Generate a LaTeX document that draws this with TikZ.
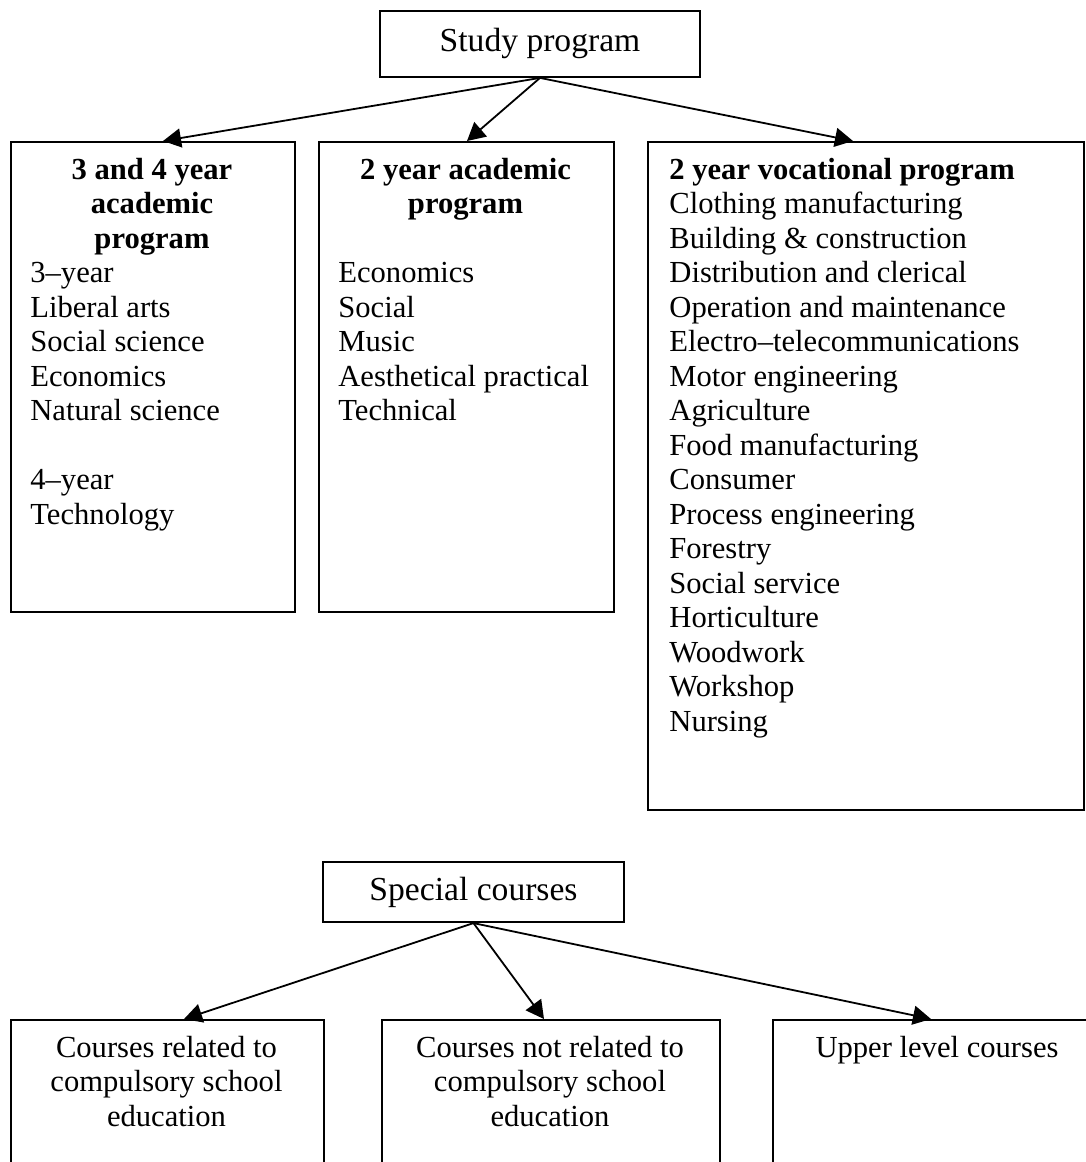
\documentclass[tikz,border=0pt]{standalone}
\usepackage{fontspec}
\setmainfont{Liberation Serif}
\usetikzlibrary{arrows.meta}

\begin{document}
\begin{tikzpicture}[x=0.5pt, y=-0.5pt,
  frame/.style={draw, line width=1.1pt, inner sep=0pt},
  headbox/.style={frame, font=\fontsize{16.8}{20}\selectfont},
  body/.style={inner sep=0pt, font=\fontsize{15.3}{17.25}\selectfont},
  listtext/.style={body, anchor=north west, align=left},
  titletext/.style={body, anchor=north, align=center, font=\fontsize{15.3}{17.25}\selectfont\bfseries},
  centretext/.style={body, anchor=north, align=center},
  link/.style={line width=0.9pt, -{Triangle[length=9pt,width=9.5pt]}}
]
\useasboundingbox (0,0) rectangle (1086,1162);

% ---------- Study program ----------
\node[headbox, minimum width=160pt, minimum height=33pt] (study) at (540,43.8) {Study program};

\node[frame, anchor=north west, minimum width=142pt, minimum height=235pt] (acad34) at (10,141) {};
\node[frame, anchor=north west, minimum width=147.5pt, minimum height=235pt] (acad2) at (318,141) {};
\node[frame, anchor=north west, minimum width=218pt, minimum height=334pt] (voc2) at (647,141) {};

\node[titletext] (acad34title) at (152,154.85) {\strut 3 and 4 year\\academic\\program};
\node[listtext] (acad34list) at (30,258.35) {\strut 3–year\\Liberal arts\\Social science\\Economics\\Natural science\\[17.25pt]4–year\\Technology};

\node[titletext] (acad2title) at (465.5,154.85) {\strut 2 year academic\\program};
\node[listtext] (acad2list) at (338,258.35) {\strut Economics\\Social\\Music\\Aesthetical practical\\Technical};

\node[listtext] (voc2list) at (669,154.85) {\strut\textbf{2 year vocational program}\\Clothing manufacturing\\Building \& construction\\Distribution and clerical\\Operation and maintenance\\Electro–telecommunications\\Motor engineering\\Agriculture\\Food manufacturing\\Consumer\\Process engineering\\Forestry\\Social service\\Horticulture\\Woodwork\\Workshop\\Nursing};

\coordinate (acad34in) at (163,141);
\coordinate (acad2in) at (467,141);
\coordinate (voc2in) at (853,141);
\draw[link] (study.south) -- (acad34in);
\draw[link] (study.south) -- (acad2in);
\draw[link] (study.south) -- (voc2in);

% ---------- Special courses ----------
\node[headbox, minimum width=150.5pt, minimum height=30pt] (special) at (473.5,892) {Special courses};

\node[frame, anchor=north west, minimum width=156.5pt, minimum height=90pt] (related) at (10,1019) {};
\node[frame, anchor=north west, minimum width=169pt, minimum height=90pt] (notrelated) at (381,1019) {};
\node[frame, anchor=north west, minimum width=170pt, minimum height=90pt] (upper) at (772,1019) {};

\node[centretext] (relatedtext) at (166.5,1032.5) {\strut Courses related to\\compulsory school\\education};
\node[centretext] (notrelatedtext) at (550,1032.5) {\strut Courses not related to\\compulsory school\\education};
\node[centretext] (uppertext) at (937,1032.5) {\strut Upper level courses};

\coordinate (relatedin) at (184,1019);
\coordinate (notrelatedin) at (544,1019);
\coordinate (upperin) at (931,1019);
\draw[link] (special.south) -- (relatedin);
\draw[link] (special.south) -- (notrelatedin);
\draw[link] (special.south) -- (upperin);
\end{tikzpicture}
\end{document}
